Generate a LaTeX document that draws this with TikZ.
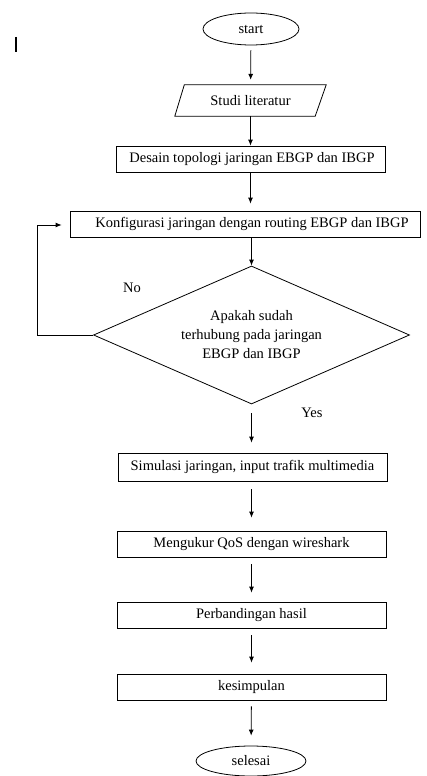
\documentclass[tikz,border=0pt]{standalone}
\usepackage{fontspec}
\setmainfont{Liberation Serif}
\usetikzlibrary{shapes.geometric,arrows.meta}
\begin{document}
\begin{tikzpicture}[x=1pt,y=-1pt,
  every node/.style={font=\fontsize{14.5}{19}\selectfont},
  box/.style={draw,line width=0.8pt,rectangle,inner sep=0pt,minimum height=26pt},
  term/.style={draw,line width=0.8pt,ellipse,inner sep=0pt},
  arr/.style={line width=0.8pt,-{Latex[length=6pt,width=5pt]}},
  ln/.style={line width=0.8pt}]
\useasboundingbox (0,0) rectangle (426,776);
\draw[line width=1.6pt] (16,37) -- (16,52);
\node[term,minimum width=96pt,minimum height=32pt] (start) at (251,29) {start};
\node[inner sep=0pt,minimum width=141pt,minimum height=31pt] (lit) at (250.5,100.5) {Studi literatur};
\draw[ln] ([xshift=4.5pt]lit.north west) -- ([xshift=5pt]lit.north east)
  -- ([xshift=-6pt]lit.south east) -- ([xshift=-5pt]lit.south west) -- cycle;
\node[box,minimum width=269pt] (des) at (251,159) {\hspace*{2pt}Desain topologi jaringan EBGP dan IBGP};
\node[box,minimum width=350pt] (konf) at (245,224) {\hspace*{14pt}Konfigurasi jaringan dengan routing EBGP dan IBGP};
\node[draw,line width=0.8pt,diamond,aspect=2.28,inner sep=0pt,minimum width=316pt,minimum height=138pt,align=center] (dec) at (251.5,335) {Apakah sudah\\terhubung pada jaringan\\EBGP dan IBGP};
\node[box,minimum width=269pt,minimum height=28pt] (sim) at (252.5,467) {Simulasi jaringan, input trafik multimedia};
\node[box,minimum width=269pt] (meng) at (251.5,544) {Mengukur QoS dengan wireshark};
\node[box,minimum width=269pt] (perb) at (251.5,615) {Perbandingan hasil};
\node[box,minimum width=269pt] (kes) at (251.5,687) {kesimpulan};
\node[term,minimum width=110pt,minimum height=30pt] (end) at (251,761) {selesai};
\node (no) at (132,288) {No};
\node (yes) at (312,413) {Yes};
\coordinate (lp1) at (37,335);
\coordinate (lp2) at (37,225);
\draw[arr,shorten <=5pt,shorten >=5pt] (start) -- (lit);
\draw[arr] (lit.south) -- (lit.south |- des.north);
\draw[arr,shorten >=7pt] (des.south -| lit.south) -- (lit.south |- konf.north);
\draw[arr] (konf.south -| dec.north) -- (dec.north);
\draw[arr] (dec.west) -- (lp1) -- (lp2) -- ([yshift=-1pt,xshift=-8pt]konf.west);
\draw[arr,shorten <=9pt,shorten >=10pt] (dec.south) -- (dec.south |- sim.north);
\draw[arr,shorten <=8pt,shorten >=13pt] (sim.south -| meng.north) -- (meng.north);
\draw[arr,shorten <=7pt,shorten >=9pt] (meng) -- (perb);
\draw[arr,shorten <=7pt,shorten >=11pt] (perb) -- (kes);
\draw[arr,shorten <=6pt,shorten >=10pt] (kes) -- (end);
\end{tikzpicture}
\end{document}
